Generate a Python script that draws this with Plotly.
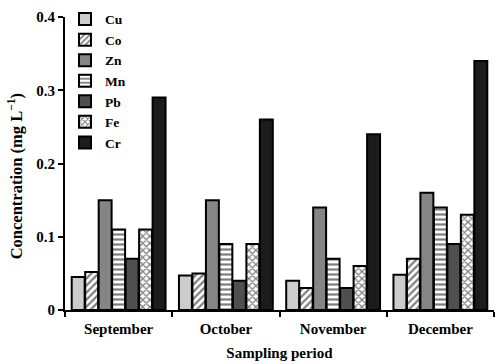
import plotly.graph_objects as go

periods = ["September", "October", "November", "December"]
metals = ["Cu", "Co", "Zn", "Mn", "Pb", "Fe", "Cr"]

cu = [0.045, 0.047, 0.040, 0.048]
co = [0.052, 0.050, 0.030, 0.070]
zn = [0.150, 0.150, 0.140, 0.160]
mn = [0.110, 0.090, 0.070, 0.140]
pb = [0.070, 0.040, 0.030, 0.090]
fe = [0.110, 0.090, 0.060, 0.130]
cr = [0.290, 0.260, 0.240, 0.340]

series = [cu, co, zn, mn, pb, fe, cr]

# fill colour, pattern shape, pattern background
styles = {
    "Cu": ("#cccccc", "", None),
    "Co": ("#000000", "/", "#ffffff"),
    "Zn": ("#858585", "", None),
    "Mn": ("#000000", "-", "#ffffff"),
    "Pb": ("#4f4f4f", "", None),
    "Fe": ("#000000", "x", "#ffffff"),
    "Cr": ("#1c1c1c", "", None),
}

font_family = "Liberation Serif, Times New Roman, serif"

fig = go.Figure()
for name, vals in zip(metals, series):
    color, shape, bg = styles[name]
    if shape:
        marker = dict(
            color=bg,
            line=dict(color="#000000", width=2),
            pattern=dict(shape=shape, fgcolor=color, bgcolor=bg,
                         size=5, solidity=0.45, fillmode="overlay"),
        )
    else:
        marker = dict(color=color, line=dict(color="#000000", width=2))
    fig.add_trace(go.Bar(x=periods, y=vals, name=name, marker=marker))

# rotated y-axis title
fig.add_annotation(
    text="Concentration (mg L<sup>\u22121</sup>)",
    xref="paper", yref="paper", x=-0.115, y=0.455,
    xanchor="center", yanchor="middle", textangle=-90, showarrow=False,
    font=dict(family=font_family, size=16.5, weight="bold", color="#000000"),
)

fig.update_layout(
    width=497, height=364,
    margin=dict(l=65, r=3, t=17, b=54),
    paper_bgcolor="white", plot_bgcolor="white",
    barmode="group", bargap=0.12, bargroupgap=0.04,
    font=dict(family=font_family, size=15, color="#000000"),
    showlegend=True,
    legend=dict(
        x=0.0, y=1.045, xanchor="left", yanchor="top",
        bgcolor="rgba(0,0,0,0)",
        font=dict(family=font_family, size=13.5, color="#000000", weight="bold"),
        tracegroupgap=0, itemwidth=30,
    ),
    xaxis=dict(
        showline=True, linecolor="#000000", linewidth=2,
        ticks="outside", tickson="boundaries", ticklen=5, tickwidth=2,
        tickcolor="#000000", ticklabelstandoff=4,
        tickfont=dict(family=font_family, size=15, weight="bold"),
        title=dict(text="Sampling period", standoff=11,
                   font=dict(family=font_family, size=15, weight="bold")),
        showgrid=False, range=[-0.5, 3.5],
    ),
    yaxis=dict(
        range=[0, 0.4], tickvals=[0, 0.1, 0.2, 0.3, 0.4],
        ticktext=["0", "0.1", "0.2", "0.3", "0.4"],
        showline=True, linecolor="#000000", linewidth=2,
        ticks="outside", ticklen=5, tickwidth=2, tickcolor="#000000",
        tickfont=dict(family=font_family, size=15, weight="bold"),
        showgrid=False, zeroline=False,
    ),
)

fig.write_html("out.html")
